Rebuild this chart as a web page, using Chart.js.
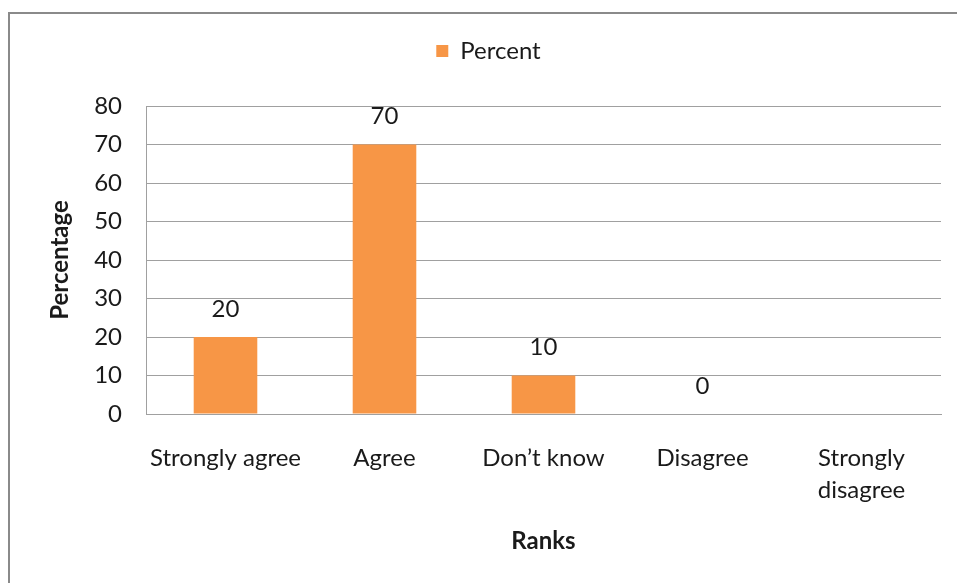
<!DOCTYPE html>
<html>
<head>
<meta charset="utf-8">
<script src="https://cdn.jsdelivr.net/npm/chart.js@4.4.1/dist/chart.umd.min.js"></script>
<style>
    html, body { margin: 0; padding: 0; background: #fff; overflow: hidden; }
    #wrap { position: relative; width: 957px; height: 583px; overflow: hidden; }
    #frame { position: absolute; left: 8px; top: 12px; width: 1100px; height: 700px; border: 2px solid #8a8a8a; box-sizing: border-box; }
    #BOX_Chart { position: absolute; left: 0; top: 0; width: 987px; height: 583px; }
</style>
</head>
<body>
<div id="wrap">
    <div id="frame"></div>
    <div id="BOX_Chart"><canvas id="CHART_Ranks" width="987" height="583"></canvas></div>
</div>
<script>
// data
const ranks = ['Strongly agree', 'Agree', 'Don\u2019t know', 'Disagree', ['Strongly', 'disagree']];
const percent = [20, 70, 10, 0, null];
const yTicks = [0, 10, 20, 30, 40, 50, 60, 70, 80];

const TextColor = '#1a1a1a';
const GridColor = '#a0a0a0';
const BarColor = '#f79646';
const FontName = 'Lato';

const valueLabels = {
    id: 'valueLabels',
    afterDatasetsDraw(chart) {
        let ctx = chart.ctx;
        let meta = chart.getDatasetMeta(0);
        ctx.save();
        ctx.font = `24px ${FontName}`;
        ctx.fillStyle = TextColor;
        ctx.textAlign = 'center';
        ctx.textBaseline = 'middle';
        for (let i = 0; i < meta.data.length; i++) {
            if (percent[i] === null) continue;
            let bar = meta.data[i];
            ctx.fillText(`${percent[i]}`, bar.x, bar.y - 28);
        }
        ctx.restore();
    }
};

// give the legend the whole strip above the plot
const legendSpace = {
    id: 'legendSpace',
    beforeInit(chart) {
        let fit = chart.legend.fit;
        chart.legend.fit = function () {
            fit.bind(chart.legend)();
            this.height = 77;
        };
    }
};

let chartHtml = document.getElementById('CHART_Ranks').getContext('2d');

let chart = new Chart(chartHtml, {
    type: 'bar',
    data: {
        labels: ranks,
        datasets: [{
            label: 'Percent',
            data: percent,
            backgroundColor: BarColor,
            barPercentage: 0.4,
            categoryPercentage: 1.0,
        }]
    },
    plugins: [legendSpace, valueLabels],
    options: {
        responsive: false,
        animation: false,
        layout: {
            padding: { top: 29, left: 36, right: 46, bottom: 23 }
        },
        plugins: {
            legend: {
                position: 'top',
                labels: {
                    boxWidth: 12,
                    boxHeight: 12,
                    padding: 10,
                    color: TextColor,
                    font: { family: FontName, size: 24 }
                }
            },
            tooltip: { enabled: false }
        },
        scales: {
            x: {
                grid: { display: false, drawTicks: false },
                border: { display: true, color: GridColor, width: 1 },
                ticks: {
                    color: TextColor,
                    font: { family: FontName, size: 24, lineHeight: '32px' },
                    padding: 28,
                    maxRotation: 0,
                    autoSkip: false
                },
                title: {
                    display: true,
                    text: 'Ranks',
                    color: TextColor,
                    font: { family: FontName, size: 24, weight: 'bold' }
                },
                afterFit: (scale) => { scale.height = 146; }
            },
            y: {
                min: 0,
                max: 80,
                afterBuildTicks: (scale) => { scale.ticks = yTicks.map(v => ({ value: v })); },
                grid: { color: GridColor, drawTicks: false },
                border: { display: true, color: GridColor, width: 1 },
                ticks: {
                    color: TextColor,
                    font: { family: FontName, size: 24 },
                    padding: 24
                },
                title: {
                    display: true,
                    text: 'Percentage',
                    color: TextColor,
                    padding: { top: 10, bottom: 0 },
                    font: { family: FontName, size: 24, weight: 'bold' }
                },
                afterFit: (scale) => { scale.width = 110; }
            }
        }
    }
});
</script>
</body>
</html>
